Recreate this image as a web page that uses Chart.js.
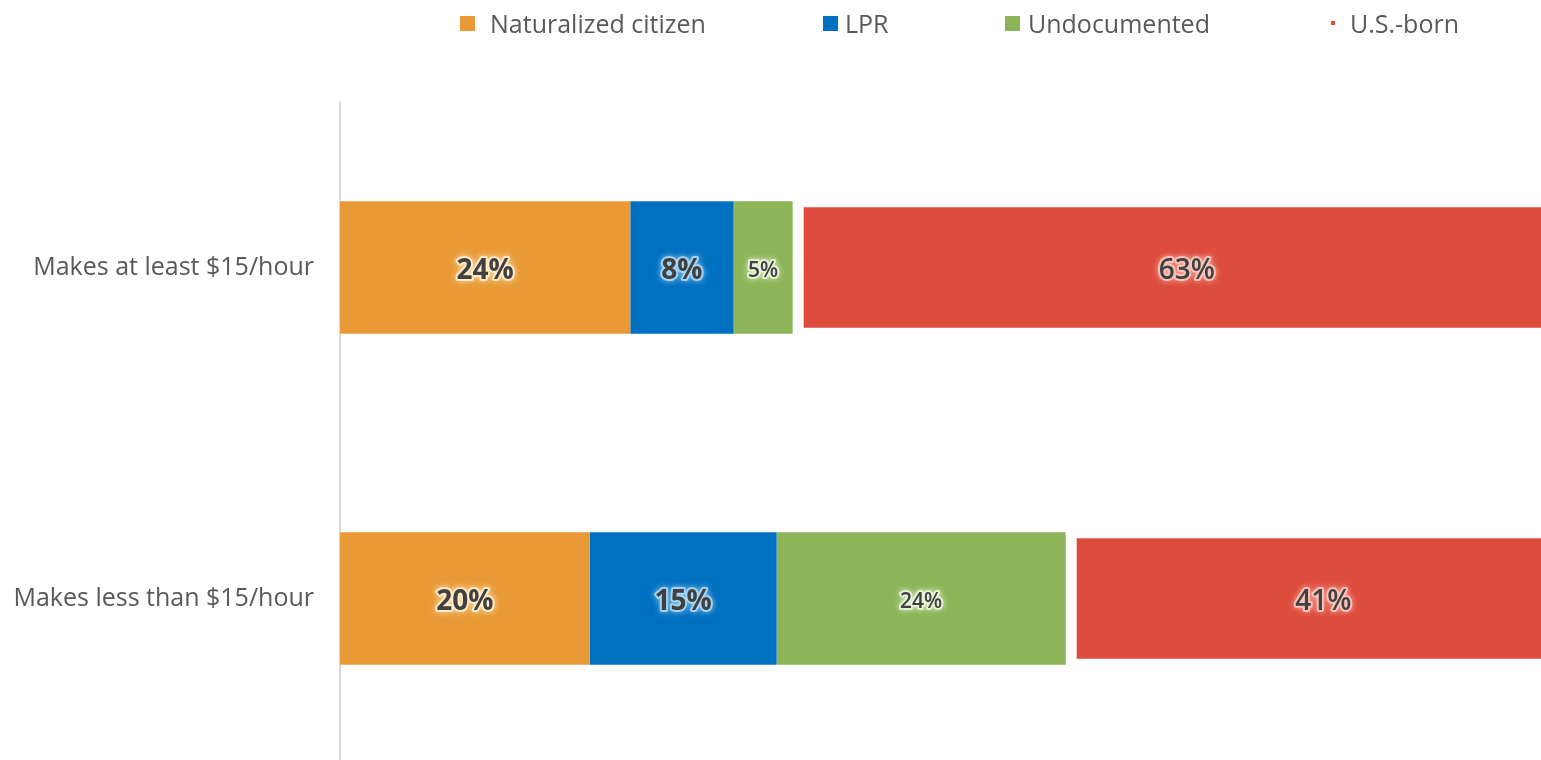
<!DOCTYPE html>
<html>
<head>
<meta charset="utf-8">
<script src="https://cdn.jsdelivr.net/npm/chart.js@4.4.1/dist/chart.umd.min.js"></script>
<style>
    html, body { margin: 0; padding: 0; background: #fff; }
    #wrap { position: relative; width: 1541px; height: 760px; overflow: hidden; }
    #chart { position: absolute; left: 0; top: 0; }
    #legend { position: absolute; left: 0; top: 0; width: 1541px; height: 50px;
              font-family: "Open Sans", sans-serif; font-size: 25px; color: #595959; }
    .item { position: absolute; top: 6px; height: 34px; line-height: 34px;
            display: flex; align-items: center; white-space: nowrap; }
</style>
</head>
<body>
<div id="wrap">
    <canvas id="chart" width="1580" height="805"></canvas>
    <div id="legend"></div>
</div>
<script>
const categories = ['Makes at least $15/hour', 'Makes less than $15/hour'];
const seriesNames = ['Naturalized citizen', 'LPR', 'Undocumented', 'U.S.-born'];

// shares in percent
const naturalized = [23.6, 20.3];
const lpr = [8.4, 15.2];
const undocumented = [4.8, 23.5];
const usBorn = [63.2, 41.0];

const colors = ['#E99A36', '#0070C0', '#8BB557', '#DD4C3C'];
const glows = ['rgba(255,236,205,0.9)', 'rgba(170,215,245,0.9)', 'rgba(235,245,220,0.9)', 'rgba(250,200,190,0.9)'];
const labelFonts = ['bold 28px', 'bold 28px', '600 21px', '600 28px'];

// legend layout: left edge, swatch size, gap to text
const legendLayout = [
    { x: 460, box: 15, gap: 15 },
    { x: 823, box: 15, gap: 7 },
    { x: 1005, box: 15, gap: 8 },
    { x: 1331, box: 4, gap: 15 }
];

const font = '"Open Sans", sans-serif';

// Draw value labels centred on each visible bar with a soft glow
const barLabels = {
    id: 'barLabels',
    afterDatasetsDraw(chart) {
        const ctx = chart.ctx;
        chart.data.datasets.forEach((ds, i) => {
            const meta = chart.getDatasetMeta(i);
            meta.data.forEach((bar, j) => {
                const p = bar.getProps(['x', 'y', 'base'], true);
                const left = p.base + (ds.borderWidth.left || 0);
                const right = Math.min(p.x, chart.chartArea.right);
                const cx = (left + right) / 2;
                const cy = p.y + 4;
                const txt = Math.round(ds.data[j]) + '%';
                ctx.save();
                ctx.font = labelFonts[i] + ' ' + font;
                ctx.textAlign = 'center';
                ctx.textBaseline = 'middle';
                ctx.lineJoin = 'round';
                ctx.shadowColor = glows[i];
                ctx.shadowBlur = 6;
                ctx.strokeStyle = glows[i];
                ctx.lineWidth = 4;
                ctx.strokeText(txt, cx, cy);
                ctx.shadowBlur = 0;
                ctx.fillStyle = '#404040';
                ctx.fillText(txt, cx, cy);
                ctx.restore();
            });
        });
    }
};

function makeDataset(i, values) {
    return {
        label: seriesNames[i],
        data: values,
        backgroundColor: colors[i],
        borderColor: '#ffffff',
        borderWidth: i === 3 ? { left: 11, top: 6, bottom: 6, right: 0 } : { left: 0, top: 0, bottom: 0, right: 0 },
        borderSkipped: false,
        barPercentage: 0.8,
        categoryPercentage: 0.5
    };
}

const chart = new Chart(document.getElementById('chart'), {
    type: 'bar',
    data: {
        labels: categories,
        datasets: [
            makeDataset(0, naturalized),
            makeDataset(1, lpr),
            makeDataset(2, undocumented),
            makeDataset(3, usBorn)
        ]
    },
    options: {
        indexAxis: 'y',
        responsive: false,
        animation: false,
        devicePixelRatio: 1,
        layout: { padding: { top: 102, bottom: 5, right: 10, left: 0 } },
        plugins: {
            legend: { display: false },
            tooltip: { enabled: false }
        },
        scales: {
            x: {
                stacked: true,
                min: 0,
                max: 100,
                display: false
            },
            y: {
                stacked: true,
                grid: { display: false, drawTicks: false },
                border: { display: true, color: '#d9d9d9', width: 2 },
                ticks: {
                    color: '#595959',
                    padding: 26,
                    font: { family: font, size: 25 }
                },
                afterFit: function (scale) {
                    scale.width = 340;
                }
            }
        }
    },
    plugins: [barLabels]
});

// HTML legend built from the datasets
const legend = document.getElementById('legend');
chart.data.datasets.forEach((ds, i) => {
    const lay = legendLayout[i];
    const item = document.createElement('div');
    item.className = 'item';
    item.style.left = lay.x + 'px';
    item.innerHTML = `<span style="display:inline-block;width:${lay.box}px;height:${lay.box}px;background:${ds.backgroundColor};margin-right:${lay.gap}px"></span><span>${ds.label}</span>`;
    legend.appendChild(item);
});
</script>
</body>
</html>
